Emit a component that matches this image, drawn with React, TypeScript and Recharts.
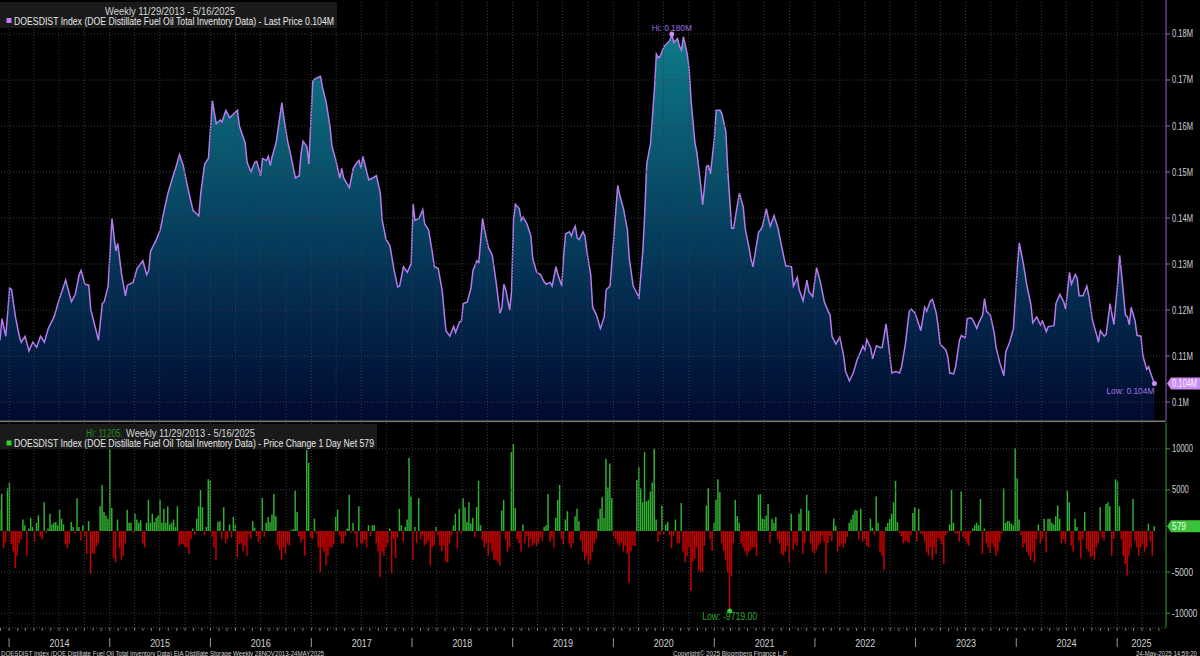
import React from 'react';
import { ComposedChart, Area, Bar, Cell, XAxis, YAxis, ReferenceLine, ReferenceDot } from 'recharts';

// ---------- data ----------
// weeks counted from 29 Nov 2013 (week 0) to 16 May 2025 (week 598)
const lineWeeks = [
  0,1,3,5,6,8,10,11,13,15,
  17,19,21,23,25,28,30,34,37,39,
  41,42,44,46,47,49,51,53,54,56,
  58,60,61,63,65,66,69,71,74,76,
  77,78,81,83,85,87,90,91,93,95,
  97,100,103,104,106,108,110,112,114,115,
  117,119,121,123,124,127,128,130,132,133,
  135,136,138,139,140,141,143,146,147,149,
  151,153,155,156,157,159,160,162,163,165,
  166,167,169,171,172,174,176,177,178,181,
  183,185,186,187,188,190,191,193,195,197,
  198,200,202,204,206,207,209,211,213,214,
  215,217,219,220,222,224,225,227,229,231,
  233,235,236,238,239,240,242,244,245,247,
  248,250,251,253,255,257,259,260,261,262,
  264,265,266,267,269,270,271,273,275,276,
  278,280,282,283,285,286,288,289,291,292,
  293,295,296,297,298,299,300,302,303,304,
  306,307,309,311,313,314,316,318,320,321,
  323,325,326,328,329,331,333,334,335,337,
  339,340,341,342,344,345,347,348,349,351,
  352,353,354,356,357,358,360,361,363,364,
  365,366,367,368,370,371,373,374,376,377,
  379,380,382,383,385,386,388,389,390,392,
  393,394,395,396,397,398,399,401,403,405,
  407,410,411,413,414,416,418,419,421,423,
  425,427,429,430,431,433,435,437,438,440,
  442,444,445,447,448,449,451,452,454,456,
  457,459,460,462,464,466,467,469,471,472,
  474,476,477,479,480,482,483,485,486,487,
  490,491,492,494,495,497,498,500,501,503,
  504,506,507,509,510,511,513,515,516,518,
  520,521,523,525,527,528,530,532,534,535,
  537,539,540,542,543,546,547,549,551,552,
  554,555,557,558,559,561,563,564,566,568,
  569,570,572,573,575,577,579,580,581,583,
  584,585,586,588,589,591,592,594,595,596,
  598,
];

// total inventory, thousand barrels / 1000 (so 180 = 0.180M)
const lineValues = [
  113.4,118.1,114.3,124.8,124.4,118.5,114.3,113,114.3,111.1,
  113,111.9,114.3,113,116,118.5,121.4,126.5,121.8,123.4,
  127.7,128.6,125.6,125.4,120.2,116.8,113.4,121.4,121.8,125.2,
  139.9,132.8,134.5,127.7,123.1,125.4,126,129,130.7,127.7,
  128.6,132.8,135.3,137.4,141.6,145.4,149.6,150.8,153.8,151.3,
  147.1,141.6,140.5,145.4,151.7,153,165.5,160.5,161.3,160.9,
  163.4,161.8,162.6,163.4,160,156.3,152.1,150,152.1,152.3,
  149.2,152.9,152.5,153.4,151.4,153.4,156.3,165.1,161.8,156.7,
  152.9,148.7,149.2,154.2,156.7,155.5,151.7,169.7,170.2,170.6,
  170.8,168.5,165.1,159.7,155.5,152.5,148.7,150.8,148.7,146.6,
  150.8,152.1,152.5,150.8,153.4,150,148.3,148.7,149.2,145.4,
  139.5,135.3,134,129,125,125.2,129.4,128.2,130.1,143,
  139.5,139.9,141.8,138.7,137.4,132.4,129.4,129,124.4,115.5,
  114.3,116.4,115.1,117.4,117.6,121.4,121.7,124.8,128.6,130.7,
  130.3,139.9,137.4,133.6,131.9,126,119.3,120.6,125.6,124.4,
  120,124,139.5,143,142,139.5,140.2,138.7,136.1,131.1,
  128.2,127.7,126,125.6,126,125.2,129.4,127.7,125.2,131.9,
  136.6,137,136.1,137.4,138.2,135.7,135.3,137,136.1,132.8,
  127.7,120.6,118.9,116,118.5,124.4,125.2,136.1,147.1,145,
  142,137.4,131.1,125.2,124.4,122.7,132.8,141.2,151.7,156.3,
  168.1,175.6,174.8,175.2,177.3,177.7,178.6,180,178.2,179,
  177.3,176.5,179.4,175.6,172.3,165.5,156.3,154.2,147.1,142.9,
  147.1,151.3,151.4,149.6,157.1,163.4,163.4,162.6,158.8,150.4,
  137.8,137.8,142.9,145.4,142.4,137.8,133.6,131.1,129.4,134.5,
  137,137.4,138.2,140.3,142,139.9,138.2,140.5,137.8,133.6,
  129.6,129.4,125.2,127.1,124.4,122,126.5,124,122.9,129.2,
  126,121.8,119.7,118.9,114.3,112.6,114.1,110.1,106.7,104.6,
  106.3,109.2,110.1,112.2,111.3,113.6,111.8,109.4,112.2,111.8,
  111.9,117,113.4,106.3,106.6,106.3,107.6,112.6,119.7,120.2,
  119.3,116.8,115.5,120.6,119.7,122,122.3,119.3,116.4,112.6,
  111.3,109.7,106.3,106.1,107.6,113.4,114.5,113.9,118.1,118.3,
  117.8,116,117.2,118.9,122.5,119.7,118.9,115.1,111.8,108.4,
  105.7,110.9,113,116,129.4,134.6,130.3,125.2,121.2,117.2,
  118.5,116.8,117.6,115.3,116.4,116.6,121.4,123.4,121.8,120.2,
  128.2,125.6,127.7,126.9,123.1,123.1,125.2,123.1,117.6,114.7,
  113,115.5,114.3,114.7,121.4,116.8,126,131.9,127.7,118.9,
  118.5,116.8,120.6,117.6,114.5,114.3,110.1,107.1,107.7,106.3,
  104,
];

// weekly net change (thousand barrels), one per week 0..598
const weeklyChange = [
  2600,4500,-2100,-1400,5200,5900,-1600,-2500,-4500,-3000,
  -1500,-1000,1400,700,-3000,300,1600,500,-1300,1000,
  1900,-700,-1000,3500,-200,300,2100,800,1000,1100,
  700,2600,1500,800,-1600,-2100,-1500,1100,500,-300,
  4000,500,-1200,700,-600,-2800,1200,-5200,-2700,-2800,
  -1900,-1500,3000,5600,2300,1900,1500,11205,2800,-3300,
  -3800,1400,-2000,-3500,-3000,-1500,2600,1000,1000,-200,
  2100,1400,1000,1300,-1500,-2000,1000,3800,1000,2100,
  1100,1600,1900,3800,1000,2700,1000,3000,800,1000,
  1400,500,3000,-1800,-1600,-1600,-2000,-2000,-2800,-1000,
  300,-500,1500,3000,5000,2900,-500,500,6300,6100,
  -700,-2000,-3500,1100,1200,-1000,2900,-1500,-1000,800,
  -800,1700,800,-3200,-1600,-1500,-2500,-1800,-3000,-400,
  -1000,1200,400,-600,-1400,-1000,4000,-700,1000,1700,
  1100,2000,4500,1800,-1800,-2300,-3500,-2000,-2800,-1500,
  -1800,100,200,4900,2300,-600,-1400,-1000,-3000,9900,
  8300,-800,-1000,1500,-400,-2000,-5000,-2000,-2500,-4200,
  -3000,-2000,-2000,-1600,1700,2600,-500,-1500,-1500,-600,
  300,4400,-200,1000,-400,-2000,3000,-1500,-1500,-1100,
  -2000,700,-600,700,700,-1500,-2500,-5600,-2500,-3000,
  -2000,-1500,
  300,-5200,-1000,-3300,-800,2700,700,-1300,500,1400,
  8900,4200,-3500,500,-1500,4000,-1000,-500,-1800,-1500,
  -1200,-4200,-2000,-1800,500,-500,-1800,-2500,-1800,-3800,
  -3800,-1500,-500,700,2100,-2100,2700,-300,4000,2900,
  1100,3500,900,1600,-800,2900,6100,700,-1200,-2000,
  -1500,-3000,-1500,-2500,-3500,-3500,-3800,-4200,2500,3800,
  -1000,-2500,-2000,9600,10600,2800,-1000,-1500,-2500,800,
  -1500,-600,-2000,-1000,-1800,-1500,-1800,-1500,-800,-1200,
  500,700,4500,-1300,-800,-2000,1600,3800,5600,-1000,
  -1600,1400,2400,-1500,-2100,-1500,1800,2700,1200,-1200,
  -2500,-3500,-3000,-4000,-3500,-2500,-1500,-1000,1500,2700,
  4100,1600,8800,5300,8200,4000,-600,-1000,-1500,-1800,
  -1400,-2500,-1800,-2800,-6300,-2500,-1800,-1800,6200,7800,
  5200,3500,9600,3600,3800,4800,5900,10000,1400,-1300,
  -500,3100,-400,800,1100,-500,-2100,-600,1400,-1500,
  -1500,3400,-2500,-3800,-3000,-2000,-7300,-3700,-3300,-2000,
  -4800,-5000,-5000,-1800,3100,5200,-1000,-2400,1000,3800,
  6300,4700,-1500,-2400,-3500,-5000,-9719,-5500,-1500,3800,
  1800,1000,-1500,-2000,-2500,-3000,-2500,-2300,-2000,-2000,
  -3000,4400,4500,1500,1500,1900,3300,-1500,1500,
  1000,1700,-1000,-1500,-2800,-3000,-2500,-1800,-3900,2100,
  -2300,-1500,-1800,2100,2700,-2800,-1500,4400,2500,-1500,
  -2500,-2800,-2300,-1800,-1500,-500,-1300,-5200,-1500,-600,
  -1200,1500,600,-2500,-1900,-1500,-2000,-1500,-700,1000,
  1400,2000,2600,2500,-1000,2700,-1300,-1000,-1800,-2000,
  1500,400,-500,4200,1000,-2500,-3000,-4800,500,1000,
  1500,2100,3500,6100,1100,-200,-600,-1500,-1200,-1300,
  -1500,-500,2200,2900,-1300,2700,-300,-400,-1300,-2500,
  -3000,-2000,-3500,-2000,-2800,-800,-1000,-1600,-4000,-500,
  -200,800,5000,1000,-300,-300,-1300,4800,-700,-1000,
  -1500,-1800,-300,300,700,1000,700,3900,-2800,300,
  -1500,-2000,-2700,-1500,-2000,-3000,-2500,-1300,-300,5200,
  1000,1200,1200,900,700,10100,6400,1400,-500,-2000,
  -1500,-2500,-3000,-3500,-2500,-3800,-1000,800,-1500,-1000,
  1500,-2600,1500,1500,1000,800,1800,3100,1500,-1500,
  -1000,-1500,4900,3500,-1800,-2500,1500,500,-1200,-3300,
  -1000,2300,-2200,-2500,-3200,-3000,-3500,-2000,-1500,2900,
  -800,-1200,3300,3500,3000,-3000,-1000,6300,6000,3000,
  -1000,-3000,-4000,-5400,-3000,-2000,3900,-1200,-2000,-3000,
  -2000,-1500,-2500,-2000,900,-1300,-3000,579,
];

const years = [2014, 2015, 2016, 2017, 2018, 2019, 2020, 2021, 2022, 2023, 2024, 2025];
const priceTicks = [100, 110, 120, 130, 140, 150, 160, 170, 180];
const changeTicks = [-10000, -5000, 5000, 10000];

// ---------- layout constants ----------
const FONT = "'Liberation Sans', Arial, sans-serif";
const W = 1200;
const AXIS_W = 34;
const PLOT_RIGHT = W - AXIS_W;
const X_DOMAIN: [number, number] = [0, 604];
const PX_PER_WEEK = PLOT_RIGHT / (X_DOMAIN[1] - X_DOMAIN[0]);
const PRICE_DOMAIN: [number, number] = [96.09, 187.39];
const CHANGE_DOMAIN: [number, number] = [-11800, 13140];
const GRID = '#3b3b3b';
const PURPLE_LINE = '#b57bec';
const PURPLE_AXIS = '#9a5cd8';
const GREEN_AXIS = '#2f9f2f';
const POS = '#30b030';
const NEG = '#c80000';

const START_UTC = Date.UTC(2013, 10, 29);
const MS_WEEK = 7 * 86400000;
const weekOf = (y: number, m: number) => (Date.UTC(y, m, 1) - START_UTC) / MS_WEEK;

const lineTable = lineWeeks.map((w, i) => ({ w, v: lineValues[i] }));
const barTable = weeklyChange.map((v, i) => ({ w: i, v }));

const quarterWeeks: number[] = [];
years.forEach((y) => [0, 3, 6, 9].forEach((m) => {
  const w = weekOf(y, m);
  if (w >= 0 && w <= X_DOMAIN[1]) quarterWeeks.push(w);
}));

const monthTicks: number[] = [];
const monthInfo = new Map<number, { y: number; m: number }>();
[2013, ...years].forEach((y) => {
  for (let m = 0; m < 12; m++) {
    const w = weekOf(y, m);
    if (w > 0 && w <= X_DOMAIN[1]) {
      monthTicks.push(w);
      monthInfo.set(w, { y, m });
    }
  }
});

// derived labels
const lastIdx = lineValues.length - 1;
const lastVal = lineValues[lastIdx];
const lastWeek = lineWeeks[lastIdx];
let hiIdx = 0;
lineValues.forEach((v, i) => { if (v > lineValues[hiIdx]) hiIdx = i; });
const hiVal = lineValues[hiIdx];
const hiWeek = lineWeeks[hiIdx];
const fmtM = (v: number) => `${(v / 1000).toFixed(3)}M`;

let barHiIdx = 0;
let barLoIdx = 0;
weeklyChange.forEach((v, i) => {
  if (v > weeklyChange[barHiIdx]) barHiIdx = i;
  if (v < weeklyChange[barLoIdx]) barLoIdx = i;
});
const lastChange = weeklyChange[weeklyChange.length - 1];

// ---------- helpers ----------
const T = ({ x, y, w, size = 10, fill = '#dcdcdc', anchor = 'start', children }: any) => (
  <text x={x} y={y} fontSize={size} fill={fill} fontFamily={FONT} textAnchor={anchor}
    textLength={w} lengthAdjust="spacingAndGlyphs">{children}</text>
);

const makeYTick = (fmt: (v: number) => string) => (props: any) => {
  const { x, y, payload } = props;
  const s = fmt(payload.value);
  return (
    <text x={x} y={y + 3.5} fontSize={10} fill="#d2d2d2" fontFamily={FONT}
      textLength={s.length * 4.2} lengthAdjust="spacingAndGlyphs">{s}</text>
  );
};

const MonthTick = (props: any) => {
  const { x, y, payload } = props;
  const info = monthInfo.get(payload.value);
  if (!info) return null;
  const parts = [<line key="m" x1={x} x2={x} y1={y} y2={y + 3} stroke="#777" />];
  if (info.m === 0) {
    const next = info.y === years[years.length - 1] ? PLOT_RIGHT : x + 52.18 * PX_PER_WEEK;
    parts.push(<line key="s" x1={x} x2={x} y1={y + 10} y2={y + 19} stroke="#9a9a9a" />);
    parts.push(
      <text key="t" x={(x + next) / 2} y={y + 18.5} fontSize={10} fill="#d0d0d0" fontFamily={FONT}
        textAnchor="middle" textLength={20} lengthAdjust="spacingAndGlyphs">{info.y}</text>
    );
  }
  return <g>{parts}</g>;
};

const HiDot = (p: any) => (
  <g>
    <circle cx={p.cx} cy={p.cy} r={2.5} fill="#c98ff5" />
    <T x={p.cx} y={p.cy - 3} w={40} size={9.5} fill="#9f6fe2" anchor="middle">{`Hi: ${fmtM(hiVal)}`}</T>
  </g>
);

const LowDot = (p: any) => (
  <g>
    <circle cx={p.cx} cy={p.cy} r={2.5} fill="#c98ff5" />
    <T x={p.cx} y={p.cy + 10} w={48} size={9.5} fill="#a374e4" anchor="end">{`Low: ${fmtM(lastVal)}`}</T>
  </g>
);

const PriceBadge = (p: any) => {
  const x = p.cx, y = p.cy;
  return (
    <g>
      <polygon points={`${x + 1},${y} ${x + 5},${y - 6} ${x + 34},${y - 6} ${x + 34},${y + 6} ${x + 5},${y + 6}`} fill="#c98cf2" />
      <T x={x + 6} y={y + 3.5} w={25} size={10} fill="#fbf2ff">{fmtM(lastVal)}</T>
    </g>
  );
};

const ChangeBadge = (p: any) => {
  const x = p.cx, y = p.cy;
  return (
    <g>
      <polygon points={`${x + 1},${y} ${x + 5},${y - 6} ${x + 34},${y - 6} ${x + 34},${y + 6} ${x + 5},${y + 6}`} fill="#3cc23c" />
      <T x={x + 6} y={y + 3.5} w={14} size={10} fill="#eaffea">{String(lastChange)}</T>
    </g>
  );
};

const LowBarDot = (p: any) => (
  <g>
    <circle cx={p.cx} cy={p.cy} r={2.5} fill="#35d035" />
    <T x={p.cx} y={p.cy + 9.5} w={55} size={10} fill="#2aa82a" anchor="middle">{`Low: ${weeklyChange[barLoIdx].toFixed(2)}`}</T>
  </g>
);

export default function App() {
  return (
    <div style={{ position: 'fixed', left: 0, top: 0, width: W, height: 656, background: '#000', overflow: 'hidden' }}>
      <div style={{ position: 'absolute', left: 0, top: 0 }}>
        <ComposedChart width={W} height={420} data={lineTable} margin={{ top: 0, right: 0, bottom: 0, left: 0 }}>
          <defs>
            <linearGradient id="invFill" x1="0" y1="0" x2="0" y2="1">
              <stop offset="0%" stopColor="#0e7a88" />
              <stop offset="25%" stopColor="#0a5d74" />
              <stop offset="50%" stopColor="#06405f" />
              <stop offset="75%" stopColor="#032449" />
              <stop offset="100%" stopColor="#010a30" />
            </linearGradient>
          </defs>
          <XAxis type="number" dataKey="w" domain={X_DOMAIN} allowDataOverflow hide />
          <YAxis orientation="right" width={AXIS_W} domain={PRICE_DOMAIN} ticks={priceTicks} interval={0}
            allowDataOverflow axisLine={{ stroke: PURPLE_AXIS }} tickLine={{ stroke: PURPLE_AXIS }}
            tickSize={4} tickMargin={2} tick={makeYTick((v) => `${v / 1000}M`)} />
          <Area type="linear" dataKey="v" stroke={PURPLE_LINE} strokeWidth={1.5} fill="url(#invFill)" fillOpacity={1}
            baseValue={PRICE_DOMAIN[0]} isAnimationActive={false} dot={false} activeDot={false} />
          {quarterWeeks.map((q) => (
            <ReferenceLine key={`q${q}`} x={q} stroke={GRID} strokeDasharray="1 2" />
          ))}
          {priceTicks.map((t) => (
            <ReferenceLine key={`p${t}`} y={t} stroke={GRID} strokeDasharray="1 2" />
          ))}
          <ReferenceDot x={hiWeek} y={hiVal} r={2.5} shape={HiDot} />
          <ReferenceDot x={lastWeek} y={lastVal} r={2.5} shape={LowDot} />
          <ReferenceDot x={X_DOMAIN[1]} y={lastVal} r={1} shape={PriceBadge} />
        </ComposedChart>
      </div>

      <div style={{ position: 'absolute', left: 0, top: 423 }}>
        <ComposedChart width={W} height={233} data={barTable} margin={{ top: 0, right: 0, bottom: 7, left: 0 }}>
          <XAxis type="number" dataKey="w" domain={X_DOMAIN} allowDataOverflow ticks={monthTicks} interval={0}
            height={21} tickSize={0} tickMargin={0} tickLine={false}
            axisLine={{ stroke: '#555', strokeDasharray: '1 2' }} tick={<MonthTick />} />
          <YAxis orientation="right" width={AXIS_W} domain={CHANGE_DOMAIN} ticks={changeTicks} interval={0}
            allowDataOverflow axisLine={{ stroke: GREEN_AXIS }} tickLine={{ stroke: GREEN_AXIS }}
            tickSize={4} tickMargin={2} tick={makeYTick((v) => String(v))} />
          {quarterWeeks.map((q) => (
            <ReferenceLine key={`bq${q}`} x={q} stroke={GRID} strokeDasharray="1 2" />
          ))}
          {changeTicks.map((t) => (
            <ReferenceLine key={`c${t}`} y={t} stroke={GRID} strokeDasharray="1 2" />
          ))}
          <Bar dataKey="v" barSize={1.5} isAnimationActive={false}>
            {barTable.map((d, i) => (
              <Cell key={i} fill={d.v >= 0 ? POS : NEG} />
            ))}
          </Bar>
          <ReferenceDot x={barLoIdx} y={weeklyChange[barLoIdx]} r={2.5} shape={LowBarDot} />
          <ReferenceDot x={X_DOMAIN[1]} y={lastChange} r={1} shape={ChangeBadge} />
        </ComposedChart>
      </div>

      <svg style={{ position: 'absolute', left: 0, top: 0, pointerEvents: 'none' }} width={W} height={656}>
        {/* top header */}
        <rect x={0} y={2} width={337} height={26} fill="#1a1a1a" />
        <T x={105} y={14.5} w={130} fill="#d6d6d6">Weekly 11/29/2013 - 5/16/2025</T>
        <rect x={6.5} y={18} width={5} height={5} fill="#c77df5" />
        <T x={14} y={24.5} w={320} fill="#e8e8e8">{`DOESDIST Index (DOE Distillate Fuel Oil Total Inventory Data) - Last Price ${fmtM(lastVal)}`}</T>

        {/* panel separator */}
        <rect x={0} y={420.5} width={PLOT_RIGHT} height={1.6} fill="#7a7a7a" />

        {/* lower header */}
        <rect x={0} y={424} width={377} height={25} fill="#1a1a1a" />
        <T x={123} y={437} w={37} fill="#1f8c1f" anchor="end">{`Hi: ${weeklyChange[barHiIdx]}.`}</T>
        <T x={126} y={437} w={129} fill="#d6d6d6">Weekly 11/29/2013 - 5/16/2025</T>
        <rect x={6.5} y={440.5} width={5} height={5} fill="#2fd02f" />
        <T x={14} y={447} w={360} fill="#e8e8e8">{`DOESDIST Index (DOE Distillate Fuel Oil Total Inventory Data) - Price Change 1 Day Net ${lastChange}`}</T>

        {/* footer */}
        <T x={1} y={655.5} w={323} size={6.8} fill="#cfcfcf">DOESDIST Index (DOE Distillate Fuel Oil Total Inventory Data) EIA Distillate Storage  Weekly 28NOV2013-24MAY2025</T>
        <T x={673} y={655.5} w={115} size={6.8} fill="#cfcfcf">Copyright© 2025 Bloomberg Finance L.P.</T>
        <T x={1197} y={655.5} w={61} size={6.8} fill="#cfcfcf" anchor="end">24-May-2025 14:59:20</T>
      </svg>
    </div>
  );
}
